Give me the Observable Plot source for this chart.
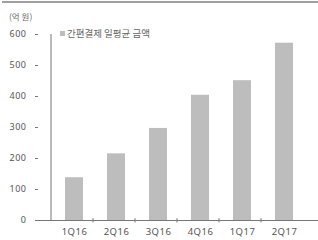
<!DOCTYPE html>
<html>
<head>
<meta charset="utf-8">
<script src="https://cdn.jsdelivr.net/npm/d3@7"></script>
<script src="https://cdn.jsdelivr.net/npm/@observablehq/plot@0.6"></script>
<style>
  html, body { margin: 0; padding: 0; background: #fff; overflow: hidden; }
  #wrap { position: relative; width: 318px; height: 240px; font-family: "Noto Sans", "Noto Sans CJK KR", sans-serif; }
  #topline { position: absolute; left: 2px; top: 1px; width: 316px; height: 0; border-top: 2px solid #a0a0a0; }
  #unit { position: absolute; left: 9px; top: 10px; font-size: 8.5px; color: #666; font-family: "Noto Sans CJK KR", sans-serif; }
  #legend { position: absolute; left: 60px; top: 26px; font-size: 9.5px; color: #666; font-family: "Noto Sans CJK KR", sans-serif; display: flex; align-items: center; }
  #legend .sw { width: 5px; height: 5px; background: #bdbdbd; margin-right: 2px; }
  svg { position: absolute; left: 0; top: 0; }
  svg text { letter-spacing: 0.5px; }
</style>
</head>
<body>
<div id="wrap">
  <div id="topline"></div>
  <div id="unit">(억 원)</div>
  <div id="legend"><span class="sw"></span><span>간편결제 일평균 금액</span></div>
</div>
<script>
const quarters = ["1Q16", "2Q16", "3Q16", "4Q16", "1Q17", "2Q17"];
const amounts = [138, 215, 297, 404, 451, 572];
const yTicks = [0, 100, 200, 300, 400, 500, 600];

const data = quarters.map((q, i) => ({quarter: q, value: amounts[i]}));
const halfStep = (320 - 38) / quarters.length / 2;

const chart = Plot.plot({
  width: 318,
  height: 240,
  marginTop: 34,
  marginBottom: 20,
  marginLeft: 38,
  marginRight: 0,
  style: {fontFamily: "Noto Sans, sans-serif", fontSize: "9px", color: "#555", background: "transparent", overflow: "visible"},
  x: {type: "band", domain: quarters, range: [38, 320], padding: 0.58, label: null, axis: null},
  y: {type: "linear", domain: [0, 600], label: null, axis: null},
  marks: [
    Plot.barY(data, {x: "quarter", y: "value", fill: "#bdbdbd"}),
    Plot.axisY({ticks: yTicks, tickSize: 3, tickPadding: 9, stroke: "#777", fill: "#555", fontSize: 9, label: null}),
    Plot.ruleX([quarters[0]], {x: d => d, y1: 0, y2: 600, dx: -halfStep, stroke: "#777"}),
    Plot.axisX({tickSize: 0, tickPadding: 8, fill: "#555", fontSize: 9.5, label: null}),
    Plot.ruleY([0], {stroke: "#777"}),
    Plot.ruleX(quarters.slice(1), {x: d => d, y1: -8, y2: 6, dx: -halfStep, stroke: "#777"})
  ]
});
document.getElementById("wrap").appendChild(chart);
</script>
</body>
</html>
